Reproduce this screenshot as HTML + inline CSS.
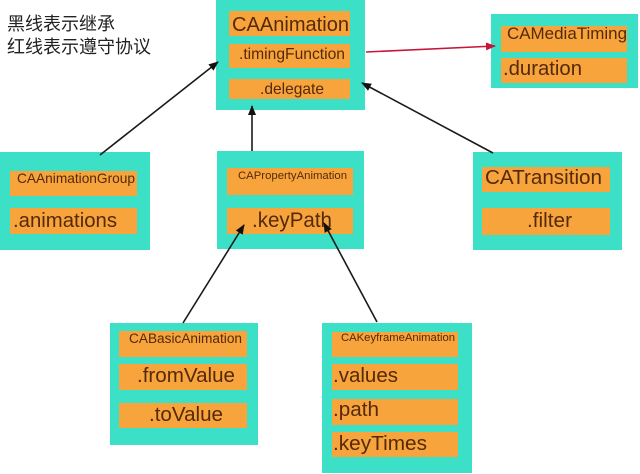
<!DOCTYPE html>
<html><head><meta charset="utf-8"><style>
html,body{margin:0;padding:0;background:#fff;width:640px;height:474px;overflow:hidden}
svg{display:block}
text{font-family:"Liberation Sans","Noto Sans CJK SC",sans-serif;fill:#55290c}
.t{fill:#3be0c7}
.o{fill:#f6a43b}
</style></head><body>
<svg width="640" height="474" viewBox="0 0 640 474" xmlns="http://www.w3.org/2000/svg">
<defs>
<marker id="ab" markerWidth="10" markerHeight="8" refX="9" refY="4" orient="auto" markerUnits="userSpaceOnUse"><path d="M0,0 L10,4 L0,8 z" fill="#111"/></marker>
<marker id="ar" markerWidth="10" markerHeight="8" refX="9" refY="4" orient="auto" markerUnits="userSpaceOnUse"><path d="M0,0 L10,4 L0,8 z" fill="#c8163a"/></marker>
</defs>
<rect width="640" height="474" fill="#fff"/>
<text x="7" y="30" font-size="18" style="fill:#222">黑线表示继承</text>
<text x="7" y="53" font-size="18" style="fill:#222">红线表示遵守协议</text>

<!-- CAAnimation -->
<rect class="t" x="216" y="0" width="149" height="110"/>
<rect class="o" x="229" y="11" width="121" height="25"/>
<rect class="o" x="229" y="44" width="121" height="24"/>
<rect class="o" x="229" y="79" width="121" height="20"/>
<text x="232" y="31" font-size="20" textLength="117" lengthAdjust="spacingAndGlyphs">CAAnimation</text>
<text x="239" y="59" font-size="16" textLength="106" lengthAdjust="spacingAndGlyphs">.timingFunction</text>
<text x="260" y="94" font-size="16" textLength="64" lengthAdjust="spacingAndGlyphs">.delegate</text>

<!-- CAMediaTiming -->
<rect class="t" x="491" y="14" width="147" height="74"/>
<rect class="o" x="501" y="26" width="126" height="26"/>
<rect class="o" x="501" y="58" width="126" height="25"/>
<text x="507" y="39" font-size="17" textLength="120" lengthAdjust="spacingAndGlyphs">CAMediaTiming</text>
<text x="503" y="75" font-size="20" textLength="79" lengthAdjust="spacingAndGlyphs">.duration</text>

<!-- CAAnimationGroup -->
<rect class="t" x="0" y="152" width="150" height="98"/>
<rect class="o" x="10" y="171" width="127" height="25"/>
<rect class="o" x="10" y="208" width="127" height="26"/>
<text x="17" y="183" font-size="14" textLength="118" lengthAdjust="spacingAndGlyphs">CAAnimationGroup</text>
<text x="13" y="227" font-size="20" textLength="104" lengthAdjust="spacingAndGlyphs">.animations</text>

<!-- CAPropertyAnimation -->
<rect class="t" x="217" y="151" width="147" height="98"/>
<rect class="o" x="227" y="168" width="126" height="27"/>
<rect class="o" x="227" y="208" width="126" height="26"/>
<text x="238" y="179" font-size="11.3" textLength="109" lengthAdjust="spacingAndGlyphs">CAPropertyAnimation</text>
<text x="252" y="227" font-size="21" textLength="80" lengthAdjust="spacingAndGlyphs">.keyPath</text>

<!-- CATransition -->
<rect class="t" x="473" y="152" width="149" height="98"/>
<rect class="o" x="482" y="167" width="128" height="25"/>
<rect class="o" x="482" y="208" width="128" height="27"/>
<text x="485" y="184" font-size="20" textLength="117" lengthAdjust="spacingAndGlyphs">CATransition</text>
<text x="527" y="227" font-size="20" textLength="45" lengthAdjust="spacingAndGlyphs">.filter</text>

<!-- CABasicAnimation -->
<rect class="t" x="110" y="323" width="148" height="122"/>
<rect class="o" x="119" y="331" width="128" height="26"/>
<rect class="o" x="119" y="364" width="128" height="26"/>
<rect class="o" x="119" y="403" width="128" height="25"/>
<text x="129" y="343" font-size="13.5" textLength="113" lengthAdjust="spacingAndGlyphs">CABasicAnimation</text>
<text x="137" y="382" font-size="20" textLength="98" lengthAdjust="spacingAndGlyphs">.fromValue</text>
<text x="149" y="421" font-size="20" textLength="74" lengthAdjust="spacingAndGlyphs">.toValue</text>

<!-- CAKeyframeAnimation -->
<rect class="t" x="322" y="323" width="150" height="150"/>
<rect class="o" x="332" y="332" width="126" height="25"/>
<rect class="o" x="332" y="364" width="126" height="26"/>
<rect class="o" x="332" y="399" width="126" height="26"/>
<rect class="o" x="332" y="432" width="126" height="25"/>
<text x="341" y="341" font-size="11.3" textLength="114" lengthAdjust="spacingAndGlyphs">CAKeyframeAnimation</text>
<text x="333" y="382" font-size="20.5" textLength="65" lengthAdjust="spacingAndGlyphs">.values</text>
<text x="333" y="416" font-size="20.5" textLength="46" lengthAdjust="spacingAndGlyphs">.path</text>
<text x="333" y="450" font-size="20.5" textLength="94" lengthAdjust="spacingAndGlyphs">.keyTimes</text>

<!-- connectors -->
<g stroke="#1a1a1a" stroke-width="1.6" fill="none">
<line x1="100" y1="155" x2="218" y2="62" marker-end="url(#ab)"/>
<line x1="252" y1="151" x2="252" y2="106" marker-end="url(#ab)"/>
<line x1="493" y1="153" x2="362" y2="83" marker-end="url(#ab)"/>
<line x1="183" y1="323" x2="244" y2="225" marker-end="url(#ab)"/>
<line x1="377" y1="322" x2="324" y2="223" marker-end="url(#ab)"/>
</g>
<line x1="366" y1="52" x2="495" y2="46" stroke="#c8163a" stroke-width="1.6" marker-end="url(#ar)"/>
</svg>
</body></html>
